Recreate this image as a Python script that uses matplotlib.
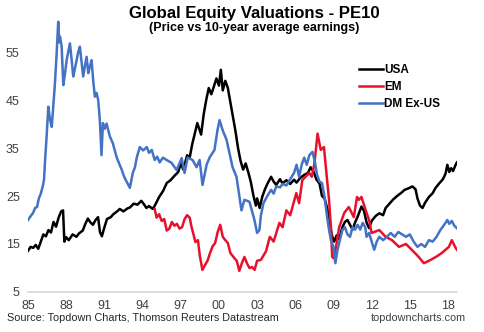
import matplotlib
matplotlib.use("Agg")
import matplotlib.pyplot as plt

# USA (black)
usa_year = [1985.0, 1985.2, 1985.4, 1985.6, 1985.8, 1986.0, 1986.2, 1986.4, 1986.6, 1986.8,
            1987.0, 1987.2, 1987.4, 1987.6, 1987.75, 1987.85, 1988.0, 1988.2, 1988.5, 1988.8,
            1989.0, 1989.3, 1989.5, 1989.7, 1989.9, 1990.1, 1990.3, 1990.5, 1990.65, 1990.8,
            1991.0, 1991.2, 1991.5, 1991.7, 1992.0, 1992.2, 1992.5, 1992.8, 1993.0, 1993.3,
            1993.6, 1993.9, 1994.1, 1994.3, 1994.5, 1994.8, 1995.0, 1995.3, 1995.6, 1995.9,
            1996.2, 1996.5, 1996.8, 1997.0, 1997.2, 1997.5, 1997.7, 1997.9, 1998.1, 1998.3,
            1998.6, 1998.8, 1999.0, 1999.2, 1999.4, 1999.6, 1999.8, 2000.0, 2000.15, 2000.3,
            2000.5, 2000.7, 2000.9, 2001.1, 2001.3, 2001.5, 2001.7, 2001.9, 2002.1, 2002.3,
            2002.5, 2002.7, 2002.9, 2003.0, 2003.2, 2003.4, 2003.6, 2003.8, 2004.1, 2004.3,
            2004.5, 2004.8, 2005.0, 2005.3, 2005.6, 2005.9, 2006.1, 2006.4, 2006.7, 2007.0,
            2007.2, 2007.45, 2007.65, 2007.9, 2008.1, 2008.3, 2008.5, 2008.7, 2008.85, 2009.05,
            2009.25, 2009.45, 2009.7, 2009.9, 2010.1, 2010.3, 2010.5, 2010.7, 2010.9, 2011.2,
            2011.4, 2011.6, 2011.8, 2012.0, 2012.3, 2012.6, 2012.9, 2013.1, 2013.4, 2013.7,
            2014.0, 2014.3, 2014.6, 2014.9, 2015.2, 2015.45, 2015.6, 2015.8, 2016.0, 2016.2,
            2016.5, 2016.8, 2017.0, 2017.3, 2017.6, 2017.8, 2017.95, 2018.1, 2018.25, 2018.4,
            2018.6, 2018.7]
usa_pe = [13.6, 14.4, 14.2, 14.8, 14.0, 15.5, 17.0, 16.6, 17.9, 17.4,
          19.6, 18.6, 20.5, 21.8, 22.0, 15.5, 16.4, 15.8, 17.0, 16.5,
          17.2, 17.8, 19.2, 20.3, 19.5, 19.0, 20.0, 20.6, 17.5, 16.6,
          18.5, 20.2, 20.6, 21.2, 21.8, 22.3, 21.8, 22.4, 22.6, 23.4,
          23.2, 24.0, 23.3, 22.5, 22.9, 22.3, 23.2, 24.8, 26.0, 27.7,
          28.3, 29.2, 30.0, 31.8, 30.5, 33.5, 33.0, 35.8, 38.0, 40.2,
          37.8, 42.0, 45.0, 47.5, 46.2, 47.8, 49.5, 48.0, 51.3, 47.0,
          49.0, 47.5, 44.5, 41.5, 38.5, 35.0, 32.3, 30.5, 31.8, 30.0,
          28.0, 25.2, 23.0, 24.5, 22.5, 24.8, 26.3, 27.5, 29.0, 28.0,
          27.3, 28.5, 27.6, 28.3, 27.5, 28.4, 27.8, 28.8, 29.4, 29.8,
          31.0, 30.0, 28.5, 27.6, 25.0, 24.5, 22.5, 20.0, 17.0, 15.5,
          16.8, 16.0, 18.5, 19.6, 20.0, 19.0, 18.0, 19.5, 20.7, 22.8,
          21.9, 19.5, 18.3, 19.8, 20.8, 21.4, 21.0, 22.5, 23.4, 24.3,
          25.0, 25.6, 26.3, 26.6, 27.0, 26.4, 24.5, 23.0, 22.5, 23.6,
          24.8, 25.6, 26.6, 27.6, 28.5, 29.6, 31.5, 30.0, 30.8, 30.2,
          31.5, 32.0]

# EM (red)
em_year = [1994.95, 1995.1, 1995.3, 1995.5, 1995.7, 1995.9, 1996.1, 1996.3, 1996.5, 1996.7,
           1996.9, 1997.1, 1997.3, 1997.5, 1997.7, 1997.85, 1998.0, 1998.15, 1998.35, 1998.5,
           1998.7, 1998.9, 1999.1, 1999.3, 1999.5, 1999.7, 1999.9, 2000.1, 2000.3, 2000.5,
           2000.7, 2000.9, 2001.2, 2001.4, 2001.6, 2001.8, 2002.0, 2002.2, 2002.4, 2002.6,
           2002.8, 2003.0, 2003.3, 2003.7, 2004.0, 2004.3, 2004.75, 2005.0, 2005.3, 2005.6,
           2006.08, 2006.3, 2006.55, 2007.1, 2007.3, 2007.5, 2007.75, 2008.0, 2008.25, 2008.5,
           2008.65, 2008.8, 2008.9, 2009.05, 2009.2, 2009.45, 2009.85, 2010.2, 2010.6, 2010.85,
           2011.0, 2011.2, 2011.55, 2011.8, 2012.0, 2012.6, 2013.1, 2013.6, 2014.15, 2014.7,
           2015.17, 2015.7, 2016.1, 2016.5, 2017.05, 2017.5, 2018.07, 2018.3, 2018.6, 2018.7]
em_pe = [22.3, 20.5, 21.2, 19.8, 20.2, 17.8, 18.2, 19.6, 18.8, 19.2,
         18.2, 18.5, 20.2, 21.0, 20.5, 18.5, 17.0, 15.4, 15.8, 12.5,
         9.6, 10.6, 11.5, 13.1, 14.5, 15.2, 17.5, 19.0, 16.5, 15.8,
         15.2, 13.1, 12.1, 11.5, 9.4, 11.0, 12.3, 11.0, 10.0, 10.2,
         9.6, 11.5, 11.7, 13.5, 16.5, 15.5, 19.4, 18.5, 22.0, 21.0,
         25.6, 23.5, 28.3, 29.8, 29.0, 31.7, 38.0, 34.6, 35.2, 28.3,
         24.2, 18.5, 12.3, 12.0, 14.4, 18.5, 21.5, 22.7, 20.6, 24.8,
         24.2, 24.8, 21.9, 20.0, 17.3, 17.9, 16.5, 15.8, 14.4, 15.0,
         13.75, 12.3, 11.0, 11.5, 12.3, 13.1, 14.4, 15.8, 14.2, 13.8]

# DM Ex-US (blue)
dm_year = [1985.0, 1985.2, 1985.4, 1985.55, 1985.7, 1985.85, 1986.0, 1986.15, 1986.25, 1986.35,
           1986.45, 1986.59, 1986.72, 1986.86, 1986.98, 1987.1, 1987.25, 1987.37, 1987.45, 1987.51,
           1987.64, 1987.77, 1987.9, 1988.03, 1988.16, 1988.29, 1988.42, 1988.55, 1988.68, 1988.81,
           1988.94, 1989.07, 1989.2, 1989.33, 1989.46, 1989.6, 1989.73, 1989.86, 1989.99, 1990.12,
           1990.25, 1990.38, 1990.51, 1990.64, 1990.77, 1990.88, 1991.03, 1991.17, 1991.43, 1991.66,
           1991.97, 1992.2, 1992.37, 1992.55, 1992.76, 1993.0, 1993.23, 1993.4, 1993.54, 1993.78,
           1994.05, 1994.33, 1994.5, 1994.72, 1994.95, 1995.15, 1995.34, 1995.6, 1995.89, 1996.28,
           1996.68, 1997.07, 1997.3, 1997.54, 1997.93, 1998.24, 1998.48, 1998.71, 1999.03, 1999.26,
           1999.65, 1999.89, 2000.05, 2000.28, 2000.6, 2000.83, 2001.07, 2001.38, 2001.61, 2001.77,
           2002.0, 2002.4, 2002.79, 2003.0, 2003.18, 2003.3, 2003.5, 2003.8, 2004.1, 2004.3,
           2004.5, 2004.8, 2005.0, 2005.3, 2005.6, 2005.9, 2006.1, 2006.3, 2006.5, 2006.7,
           2006.9, 2007.1, 2007.35, 2007.55, 2007.7, 2007.9, 2008.1, 2008.3, 2008.5, 2008.65,
           2008.8, 2009.0, 2009.15, 2009.3, 2009.45, 2009.7, 2009.9, 2010.1, 2010.3, 2010.5,
           2010.7, 2010.9, 2011.1, 2011.3, 2011.5, 2011.6, 2011.8, 2012.0, 2012.2, 2012.4,
           2012.6, 2012.9, 2013.2, 2013.5, 2013.8, 2014.1, 2014.4, 2014.7, 2015.0, 2015.3,
           2015.6, 2015.9, 2016.2, 2016.5, 2016.8, 2017.1, 2017.4, 2017.7, 2017.95, 2018.1,
           2018.3, 2018.5, 2018.7]
dm_pe = [20.0, 20.8, 21.5, 22.5, 22.7, 24.5, 25.5, 27.0, 28.3, 33.0,
         37.1, 43.6, 41.0, 39.4, 43.6, 48.0, 55.0, 61.3, 57.0, 58.2,
         56.1, 48.1, 50.5, 53.3, 55.0, 56.8, 53.5, 49.9, 51.5, 53.3,
         55.0, 56.1, 53.0, 49.9, 52.0, 54.0, 50.6, 52.0, 53.3, 49.0,
         45.7, 46.5, 45.0, 40.8, 33.5, 40.2, 39.0, 40.1, 37.4, 36.0,
         33.0, 31.5, 30.4, 29.0, 27.9, 26.7, 29.8, 31.0, 33.0, 35.2,
         34.5, 35.2, 34.0, 34.6, 32.5, 33.2, 32.0, 33.0, 32.5, 31.9,
         30.4, 32.9, 29.8, 33.0, 32.5, 31.0, 32.5, 27.3, 31.5, 33.0,
         34.6, 38.8, 40.8, 38.8, 36.7, 33.9, 31.0, 29.0, 24.8, 22.0,
         24.2, 23.8, 20.0, 17.3, 17.9, 21.0, 23.5, 25.0, 26.3, 25.5,
         27.0, 26.8, 27.5, 27.2, 28.5, 29.8, 31.5, 29.0, 31.5, 33.0,
         31.5, 33.5, 34.2, 32.0, 29.5, 28.0, 27.7, 24.8, 20.6, 18.0,
         15.8, 14.4, 11.0, 13.5, 15.2, 17.9, 18.5, 17.0, 16.5, 18.5,
         18.0, 19.0, 18.0, 19.4, 18.5, 16.5, 17.3, 15.5, 13.8, 15.5,
         16.5, 15.8, 16.5, 17.3, 16.5, 17.5, 17.0, 16.5, 17.0, 15.5,
         14.4, 15.0, 14.4, 15.8, 15.5, 16.5, 17.9, 19.0, 20.0, 19.2,
         19.8, 18.8, 18.3]

tick_years = [1985, 1988, 1991, 1994, 1997, 2000, 2003, 2006, 2009, 2012, 2015, 2018]
tick_labels = ["85", "88", "91", "94", "97", "00", "03", "06", "09", "12", "15", "18"]
y_ticks = [5, 15, 25, 35, 45, 55]

plt.rcParams["font.family"] = ["Liberation Sans", "DejaVu Sans"]

fig = plt.figure(figsize=(4.84, 3.32), dpi=100)
ax = fig.add_axes([0.058, 0.1205, 0.886, 0.824])

ax.plot(usa_year, usa_pe, color="black", lw=1.8, label="USA")
ax.plot(em_year, em_pe, color="#e8112d", lw=1.8, label="EM")
ax.plot(dm_year, dm_pe, color="#4472c4", lw=1.8, label="DM Ex-US")

ax.set_xlim(1985, 2018.7)
ax.set_ylim(5, 62)
ax.set_xticks(tick_years)
ax.set_xticklabels(tick_labels)
ax.set_yticks(y_ticks)

for side in ["top", "right", "left"]:
    ax.spines[side].set_visible(False)
ax.spines["bottom"].set_color("#d9d9d9")
ax.spines["bottom"].set_linewidth(1.2)
ax.tick_params(axis="both", length=0, labelsize=9, colors="#404040")
ax.tick_params(axis="x", pad=6)
ax.tick_params(axis="y", pad=6)

leg = ax.legend(loc="upper left", bbox_to_anchor=(0.72, 0.838), bbox_transform=fig.transFigure,
                frameon=False, handlelength=2.0, handletextpad=0.15, labelspacing=0.4,
                prop={"weight": "bold", "size": 8.5})

fig.text(0.525, 0.958, "Global Equity Valuations - PE10", ha="center", va="center",
         fontsize=12.1, fontweight="bold")
fig.text(0.525, 0.915, "(Price vs 10-year average earnings)", ha="center", va="center",
         fontsize=9, fontweight="bold")
fig.text(0.015, 0.042, "Source: Topdown Charts, Thomson Reuters Datastream", ha="left",
         va="center", fontsize=7.8, color="#262626")
fig.text(0.962, 0.042, "topdowncharts.com", ha="right", va="center", fontsize=7.8,
         color="#404040")

fig.savefig("out.png", dpi=100)
